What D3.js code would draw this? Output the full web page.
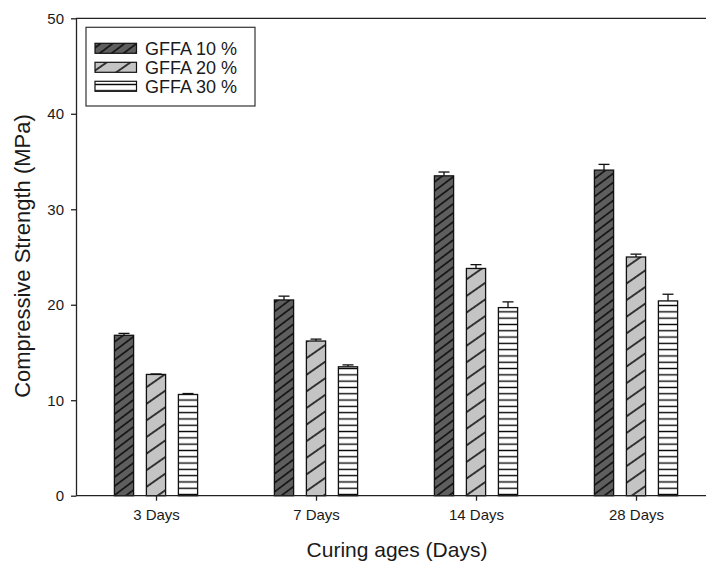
<!DOCTYPE html>
<html lang="en">
<head>
  <meta charset="UTF-8">
  <title>Compressive Strength</title>
  <script src="https://d3js.org/d3.v7.min.js"></script>
  <style>
    body { margin: 0; background: #fff; }
    text { font-family: "Liberation Sans", Arial, sans-serif; fill: #1a1a1a; }
  </style>
</head>
<body>
  <div class="canvas"></div>
  <script>
    // data
    const categories = ["3 Days", "7 Days", "14 Days", "28 Days"];
    const series = ["GFFA 10 %", "GFFA 20 %", "GFFA 30 %"];
    const gffa10 = [16.8, 20.5, 33.5, 34.1];
    const gffa10Err = [0.2, 0.4, 0.4, 0.6];
    const gffa20 = [12.7, 16.2, 23.8, 25.0];
    const gffa20Err = [0.05, 0.2, 0.4, 0.3];
    const gffa30 = [10.6, 13.5, 19.7, 20.4];
    const gffa30Err = [0.1, 0.2, 0.6, 0.7];
    const yTicks = [0, 10, 20, 30, 40, 50];

    const width = 706;
    const height = 562;
    const plotLeft = 76, plotTop = 18.3, plotBottom = 495.7;

    const svg = d3.select('.canvas')
      .append('svg')
      .attr('width', width)
      .attr('height', height);

    const values = [gffa10, gffa20, gffa30];
    const errs = [gffa10Err, gffa20Err, gffa30Err];
    const rows = [];
    categories.forEach((c, i) => {
      series.forEach((s, j) => {
        rows.push({ cat: c, key: s, idx: j, value: values[j][i], err: errs[j][i] });
      });
    });

    // patterns
    const defs = svg.append('defs');
    function hatch(id, bg, gap, angle, sw) {
      const p = defs.append('pattern')
        .attr('id', id)
        .attr('patternUnits', 'userSpaceOnUse')
        .attr('width', 40)
        .attr('height', gap)
        .attr('patternTransform', `rotate(${angle})`);
      p.append('rect').attr('width', 40).attr('height', gap).attr('fill', bg);
      p.append('line')
        .attr('x1', 0).attr('x2', 40)
        .attr('y1', gap / 2).attr('y2', gap / 2)
        .attr('stroke', '#000')
        .attr('stroke-width', sw);
    }
    hatch('p10', '#5e5e5e', 7.2, -37, 1.3);
    hatch('p20', '#c4c4c4', 13.6, -35, 1.4);
    hatch('p30', '#ffffff', 6.3, 0, 1.3);
    const fills = d3.scaleOrdinal().domain(series).range(['url(#p10)', 'url(#p20)', 'url(#p30)']);

    // scales
    const x = d3.scalePoint()
      .domain(categories)
      .range([plotLeft, plotLeft + 640])
      .padding(0.5);

    const xInner = d3.scaleBand()
      .domain(series)
      .range([-48, 48])
      .paddingInner(0.4)
      .paddingOuter(0.2);

    const y = d3.scaleLinear()
      .domain([0, 50])
      .range([plotBottom, plotTop]);

    // frame top line
    svg.append('line')
      .attr('x1', plotLeft).attr('x2', width)
      .attr('y1', y(50)).attr('y2', y(50))
      .attr('stroke', '#222').attr('stroke-width', 1.3);

    // bars
    svg.selectAll('.bar')
      .data(rows)
      .enter()
      .append('rect')
      .attr('class', 'bar')
      .attr('x', d => x(d.cat) + xInner(d.key))
      .attr('y', d => y(d.value))
      .attr('width', xInner.bandwidth())
      .attr('height', d => y(0) - y(d.value))
      .attr('fill', d => fills(d.key))
      .attr('stroke', '#111')
      .attr('stroke-width', 1.3);

    // error bars (upper half only, lower hidden by bar)
    const eb = svg.selectAll('.err')
      .data(rows)
      .enter()
      .append('g')
      .attr('class', 'err')
      .attr('transform', d => `translate(${x(d.cat) + xInner(d.key) + xInner.bandwidth() / 2},0)`)
      .attr('stroke', '#111')
      .attr('stroke-width', 1.3);
    eb.append('line')
      .attr('x1', 0).attr('x2', 0)
      .attr('y1', d => y(d.value))
      .attr('y2', d => y(d.value + d.err));
    eb.append('line')
      .attr('x1', -5.5).attr('x2', 5.5)
      .attr('y1', d => y(d.value + d.err))
      .attr('y2', d => y(d.value + d.err));

    // axes
    const xAxisG = svg.append('g')
      .attr('transform', `translate(0, ${plotBottom})`)
      .call(d3.axisBottom(x).tickSize(5).tickSizeOuter(0).tickPadding(9));
    xAxisG.select('.domain').attr('d', `M${plotLeft},0H${width}`);
    xAxisG.selectAll('line, path').attr('stroke', '#222').attr('stroke-width', 1.3);
    xAxisG.selectAll('text').attr('font-size', 15).attr('font-family', '"Liberation Sans", Arial, sans-serif').attr('fill', '#1a1a1a');

    const yAxisG = svg.append('g')
      .attr('transform', `translate(${plotLeft}, 0)`)
      .call(d3.axisLeft(y).tickValues(yTicks).tickSize(5).tickSizeOuter(0).tickPadding(7));
    yAxisG.selectAll('line, path').attr('stroke', '#222').attr('stroke-width', 1.3);
    yAxisG.selectAll('text').attr('font-size', 15).attr('font-family', '"Liberation Sans", Arial, sans-serif').attr('fill', '#1a1a1a');

    // axis titles
    svg.append('text')
      .attr('x', 397)
      .attr('y', 557)
      .attr('text-anchor', 'middle')
      .attr('font-size', 21)
      .text('Curing ages (Days)');

    svg.append('text')
      .attr('transform', `translate(30, 256) rotate(-90)`)
      .attr('text-anchor', 'middle')
      .attr('font-size', 22)
      .text('Compressive Strength (MPa)');

    // legend
    const legend = svg.append('g');
    legend.append('rect')
      .attr('x', 86).attr('y', 27.3)
      .attr('width', 169).attr('height', 78.7)
      .attr('fill', '#fff')
      .attr('stroke', '#333')
      .attr('stroke-width', 1.2);
    const item = legend.selectAll('.item')
      .data(series)
      .enter()
      .append('g')
      .attr('class', 'item')
      .attr('transform', (d, i) => `translate(95, ${43.3 + i * 19})`);
    item.append('rect')
      .attr('width', 41.5)
      .attr('height', 10)
      .attr('fill', d => fills(d))
      .attr('stroke', '#111')
      .attr('stroke-width', 1.2);
    item.append('text')
      .attr('x', 50)
      .attr('y', 5)
      .attr('dy', '0.36em')
      .attr('font-size', 18)
      .text(d => d);
  </script>
</body>
</html>
